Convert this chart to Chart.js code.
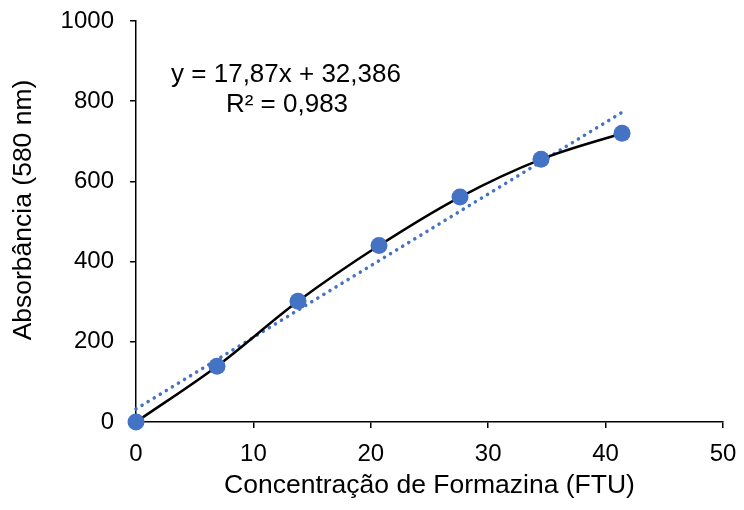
<!DOCTYPE html>
<html>
<head>
<meta charset="utf-8">
<script src="https://cdn.jsdelivr.net/npm/chart.js@4/dist/chart.umd.min.js"></script>
<style>
  html, body { margin: 0; padding: 0; background: #fff; }
  #wrap { width: 744px; height: 510px; position: relative; }
</style>
</head>
<body>
<div id="wrap"><canvas id="c" width="744" height="510"></canvas></div>
<script>
// Formazin calibration: concentration (FTU) vs absorbance at 580 nm
const concentracao = [0, 6.9, 13.8, 20.7, 27.6, 34.5, 41.4];
const absorbancia = [0, 139, 301, 440, 561, 655, 720];

// Linear fit reported on the chart
const slope = 17.87;
const intercept = 32.386;
const equationText = 'y = 17,87x + 32,386';
const r2Text = 'R² = 0,983';

const xTicks = [0, 10, 20, 30, 40, 50];
const yTicks = [0, 200, 400, 600, 800, 1000];

const xTitle = 'Concentração de Formazina (FTU)';
const yTitle = 'Absorbância (580 nm)';

const blue = '#4472C4';
const FONT = '"Liberation Sans", Arial, sans-serif';

const pontos = concentracao.map((x, i) => ({ x, y: absorbancia[i] }));
const xEnd = concentracao[concentracao.length - 1];
const tendencia = [
  { x: 0, y: intercept },
  { x: xEnd, y: slope * xEnd + intercept }
];

// Fit equation and the vertical axis title, drawn as text on the canvas
const annotationPlugin = {
  id: 'annotations',
  afterDatasetsDraw(chart) {
    const ctx = chart.ctx;
    ctx.save();
    ctx.fillStyle = '#000';
    ctx.font = '26px ' + FONT;
    ctx.textAlign = 'center';
    ctx.textBaseline = 'middle';
    ctx.fillText(equationText, 286, 75);
    ctx.fillText(r2Text, 287, 105);

    ctx.font = '26.5px ' + FONT;
    ctx.translate(24, 210);
    ctx.rotate(-Math.PI / 2);
    ctx.fillText(yTitle, 0, 0);
    ctx.restore();
  }
};

new Chart(document.getElementById('c'), {
  type: 'scatter',
  data: {
    datasets: [
      {
        label: 'Tendência',
        data: tendencia,
        showLine: true,
        borderColor: blue,
        borderWidth: 3.5,
        borderDash: [0.1, 7],
        borderCapStyle: 'round',
        pointRadius: 0,
        fill: false,
        order: 2
      },
      {
        label: 'Absorbância',
        data: pontos,
        showLine: true,
        tension: 0.35,
        borderColor: '#000',
        borderWidth: 2.5,
        pointRadius: 8.5,
        pointBackgroundColor: blue,
        pointBorderColor: blue,
        pointBorderWidth: 0,
        fill: false,
        order: 1
      }
    ]
  },
  plugins: [annotationPlugin],
  options: {
    responsive: false,
    animation: false,
    clip: false,
    layout: { padding: { left: 0, right: 21, top: 21, bottom: 0 } },
    plugins: {
      legend: { display: false },
      tooltip: { enabled: false }
    },
    scales: {
      x: {
        type: 'linear',
        min: 0,
        max: 50,
        afterBuildTicks(scale) { scale.ticks = xTicks.map(v => ({ value: v })); },
        afterFit(scale) {
          scale.height = 88;
          scale.paddingLeft = 0;
          scale.paddingRight = 0;
        },
        border: { color: '#000', width: 1.5 },
        grid: { display: true, drawOnChartArea: false, drawTicks: true, tickLength: 6, color: '#000', lineWidth: 1.5 },
        ticks: { color: '#000', font: { family: FONT, size: 24 }, padding: 12, maxRotation: 0 },
        title: {
          display: true,
          text: xTitle,
          color: '#000',
          font: { family: FONT, size: 26.5 },
          padding: { top: 0, bottom: 8 }
        }
      },
      y: {
        type: 'linear',
        min: 0,
        max: 1000,
        afterBuildTicks(scale) { scale.ticks = yTicks.map(v => ({ value: v })); },
        afterFit(scale) {
          scale.width = 136;
          scale.paddingTop = 0;
          scale.paddingBottom = 0;
        },
        border: { color: '#000', width: 1.5 },
        grid: { display: true, drawOnChartArea: false, drawTicks: true, tickLength: 6, color: '#000', lineWidth: 1.5 },
        ticks: {
          color: '#000',
          font: { family: FONT, size: 24 },
          padding: 16,
          callback: v => String(v)
        },
        title: { display: false }
      }
    }
  }
});
</script>
</body>
</html>
